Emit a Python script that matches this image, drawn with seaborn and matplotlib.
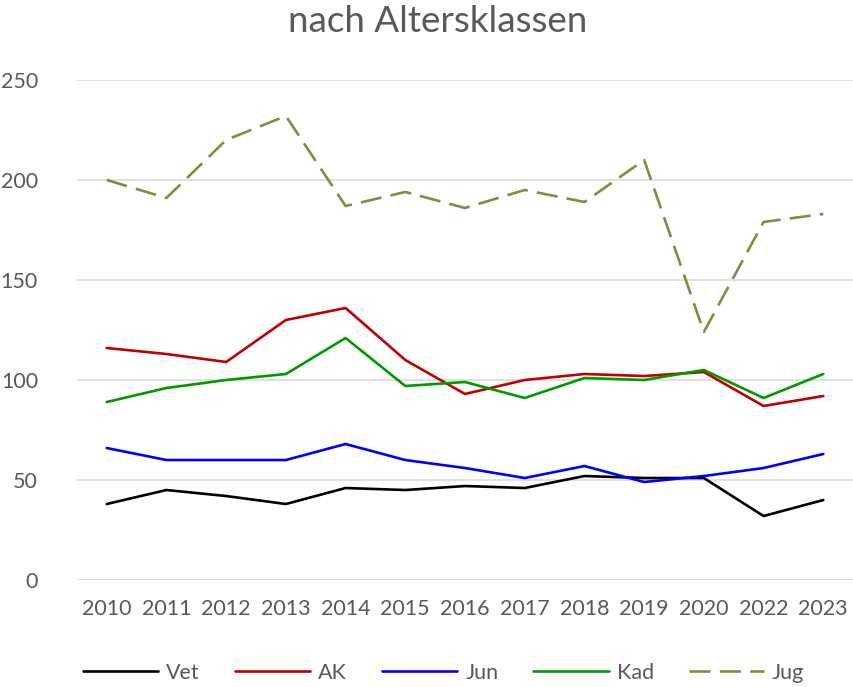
import matplotlib
matplotlib.use("Agg")
import matplotlib.pyplot as plt
import seaborn as sns
import pandas as pd

years = ["2010", "2011", "2012", "2013", "2014", "2015", "2016", "2017",
         "2018", "2019", "2020", "2022", "2023"]
vet = [38, 45, 42, 38, 46, 45, 47, 46, 52, 51, 51, 32, 40]
ak = [116, 113, 109, 130, 136, 110, 93, 100, 103, 102, 104, 87, 92]
jun = [66, 60, 60, 60, 68, 60, 56, 51, 57, 49, 52, 56, 63]
kad = [89, 96, 100, 103, 121, 97, 99, 91, 101, 100, 105, 91, 103]
jug = [200, 191, 220, 232, 187, 194, 186, 195, 189, 210, 124, 179, 183]
series_names = ["Vet", "AK", "Jun", "Kad", "Jug"]
yticks = [0, 50, 100, 150, 200, 250]

colors = {"Vet": "#000000", "AK": "#C00000", "Jun": "#0000FF",
          "Kad": "#009A00", "Jug": "#77933C"}

sns.set_theme(style="white")
plt.rcParams['font.family'] = ['Lato', 'DejaVu Sans']

frames = []
for name, vals in zip(series_names, [vet, ak, jun, kad, jug]):
    frames.append(pd.DataFrame({"Jahr": years, "Wert": vals, "Klasse": name}))
df = pd.concat(frames, ignore_index=True)

fig = plt.figure(figsize=(8.54, 6.87), dpi=100)
ax = fig.add_axes([0.090, 0.1557, 0.909, 0.7279])

for name in series_names:
    sub = df[df["Klasse"] == name]
    sns.lineplot(data=sub, x="Jahr", y="Wert", ax=ax, color=colors[name],
                 linewidth=1.9, label=name, sort=False)
    if name == "Jug":
        ax.lines[-1].set_linestyle((0, (8, 3.5)))

ax.set_ylim(0, 250)
ax.set_xlim(-0.5, len(years) - 0.5)
ax.set_yticks(yticks)
ax.set_xlabel("")
ax.set_ylabel("")
ax.grid(axis="y", color="#D9D9D9", linewidth=1.1)
ax.set_axisbelow(True)
for s in ax.spines.values():
    s.set_visible(False)
ax.tick_params(axis="both", length=0, labelsize=15.5, labelcolor="#595959")
ax.tick_params(axis="y", pad=28)
ax.tick_params(axis="x", pad=14)

fig.text(0.512, 1 - 32 / 687, "nach Altersklassen", ha="center", va="baseline",
         fontsize=26.5, color="#595959")

handles, labels = ax.get_legend_handles_labels()
leg = ax.legend(handles, labels, loc="center left",
                bbox_to_anchor=(0.0796, 0.021), bbox_transform=fig.transFigure,
                ncol=5, frameon=False, fontsize=15.5, handlelength=3.5,
                handletextpad=0.37, columnspacing=1.62, borderpad=0.2)
for t in leg.get_texts():
    t.set_color("#595959")

fig.savefig("out.png", dpi=100)
